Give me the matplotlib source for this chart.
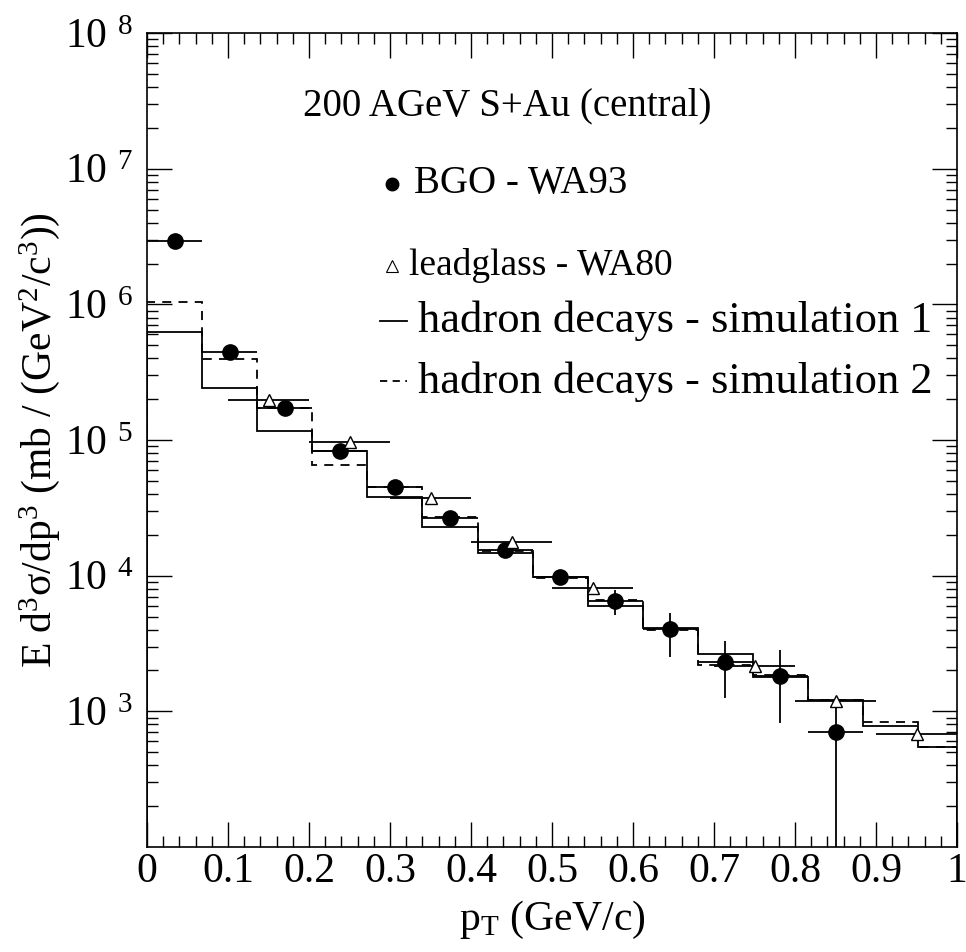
import numpy as np
import matplotlib
matplotlib.use("Agg")
import matplotlib.pyplot as plt
from matplotlib.ticker import FixedLocator, LogLocator, MultipleLocator, NullFormatter

plt.rcParams["font.family"] = ["Liberation Serif", "DejaVu Serif"]
plt.rcParams["mathtext.fontset"] = "custom"
plt.rcParams["mathtext.rm"] = "Liberation Serif"
plt.rcParams["mathtext.it"] = "Liberation Serif:italic"
plt.rcParams["mathtext.bf"] = "Liberation Serif:bold"

# BGO - WA93 points (bin centres, half width 0.034)
bgo_x = [0.034, 0.102, 0.170, 0.238, 0.306, 0.374, 0.442, 0.510, 0.578, 0.646, 0.714, 0.782, 0.850]
bgo_y = [2.93e6, 4.46e5, 1.73e5, 8.3e4, 4.5e4, 2.67e4, 1.55e4, 9.8e3, 6.5e3, 4.06e3, 2.32e3, 1.83e3, 706]
bgo_lo = [2.93e6, 4.46e5, 1.73e5, 8.3e4, 4.5e4, 2.67e4, 1.55e4, 8.9e3, 5.1e3, 2.52e3, 1.26e3, 822, 1]
bgo_hi = [2.93e6, 4.46e5, 1.73e5, 8.3e4, 4.5e4, 2.67e4, 1.55e4, 1.1e4, 7.8e3, 5.32e3, 3.31e3, 2.84e3, 1.28e3]
bgo_xerr = 0.034

# leadglass - WA80 points (half width 0.05)
wa80_x = [0.15, 0.25, 0.35, 0.45, 0.55, 0.75, 0.85, 0.95]
wa80_y = [1.97e5, 9.7e4, 3.74e4, 1.77e4, 8.1e3, 2.16e3, 1.19e3, 683]
wa80_xerr = 0.05

# hadron decay simulations (histograms)
sim_edges = [0, 0.068, 0.136, 0.204, 0.272, 0.340, 0.408, 0.476, 0.544, 0.612,
             0.680, 0.748, 0.816, 0.884, 0.952, 1.0]
sim1 = [6.3e5, 2.42e5, 1.17e5, 8.3e4, 3.8e4, 2.3e4, 1.48e4, 9.8e3, 6.0e3, 4.1e3,
        2.66e3, 1.8e3, 1.22e3, 782, 547]
sim2 = [1.04e6, 3.96e5, 1.73e5, 6.5e4, 4.5e4, 2.7e4, 1.52e4, 9.6e3, 6.6e3, 4.0e3,
        2.2e3, 1.85e3, 1.22e3, 837, 547]

fig = plt.figure(figsize=(9.66, 9.52), dpi=100)
ax = fig.add_axes([0.1522, 0.1103, 0.8385, 0.855])

ax.stairs(sim1, sim_edges, color="black", lw=1.3)
ax.stairs(sim2, sim_edges, color="black", lw=1.3, ls=(0, (5, 4)))

yerr = [np.array(bgo_y) - np.array(bgo_lo), np.array(bgo_hi) - np.array(bgo_y)]
ax.errorbar(bgo_x, bgo_y, xerr=bgo_xerr, yerr=yerr, fmt="o", color="black",
            ms=11, lw=1.3, capsize=0)
ax.errorbar(wa80_x, wa80_y, xerr=wa80_xerr, fmt="^", color="black", mfc="white",
            mec="black", ms=9, lw=1.3, mew=1.0, capsize=0)

ax.set_yscale("log")
ax.set_xlim(0, 1)
ax.set_ylim(1e2, 1e8)

ax.yaxis.set_major_locator(FixedLocator([1e3, 1e4, 1e5, 1e6, 1e7, 1e8]))
ax.yaxis.set_minor_locator(LogLocator(base=10, subs=np.arange(2, 10)))
ax.yaxis.set_minor_formatter(NullFormatter())
ax.set_yticklabels([r"10 $^{%d}$" % k for k in range(3, 9)])
ax.xaxis.set_minor_locator(MultipleLocator(0.02))
ax.set_xticks(np.arange(0, 1.01, 0.1))
ax.set_xticklabels(["0", "0.1", "0.2", "0.3", "0.4", "0.5", "0.6", "0.7", "0.8", "0.9", "1"])

ax.tick_params(which="both", direction="in", top=True, right=True, width=1.0)
ax.tick_params(which="major", length=18, labelsize=30)
ax.tick_params(axis="x", which="major", pad=4)
ax.tick_params(axis="y", which="major", pad=10)
ax.tick_params(which="minor", length=8)
for s in ax.spines.values():
    s.set_linewidth(1.2)

ax.set_xlabel(r"p$_{\mathrm{T}}$ (GeV/c)", fontsize=30, labelpad=6)
ax.set_ylabel(r"E d$^3$σ/dp$^3$ (mb / (GeV$^2$/c$^3$))", fontsize=30, labelpad=2)

# legend block drawn by hand
ax.text(0.192, 0.911, "200 AGeV S+Au (central)", transform=ax.transAxes,
        fontsize=28, va="center", ha="left")
ax.plot([0.302], [0.815], "o", color="black", ms=9, transform=ax.transAxes)
ax.text(0.330, 0.815, "BGO - WA93", transform=ax.transAxes, fontsize=28, va="center")
ax.plot([0.302], [0.714], "^", color="black", mfc="white", ms=8, mew=0.8,
        transform=ax.transAxes)
ax.text(0.323, 0.714, "leadglass - WA80", transform=ax.transAxes, fontsize=27, va="center")
ax.plot([0.288, 0.321], [0.646, 0.646], "-", color="black", lw=1.3, transform=ax.transAxes)
ax.text(0.334, 0.646, "hadron decays - simulation 1", transform=ax.transAxes,
        fontsize=32, va="center")
ax.plot([0.288, 0.321], [0.572, 0.572], color="black", lw=1.3, ls=(0, (4, 3)),
        transform=ax.transAxes)
ax.text(0.334, 0.572, "hadron decays - simulation 2", transform=ax.transAxes,
        fontsize=32, va="center")

fig.savefig("out.png", dpi=100)
